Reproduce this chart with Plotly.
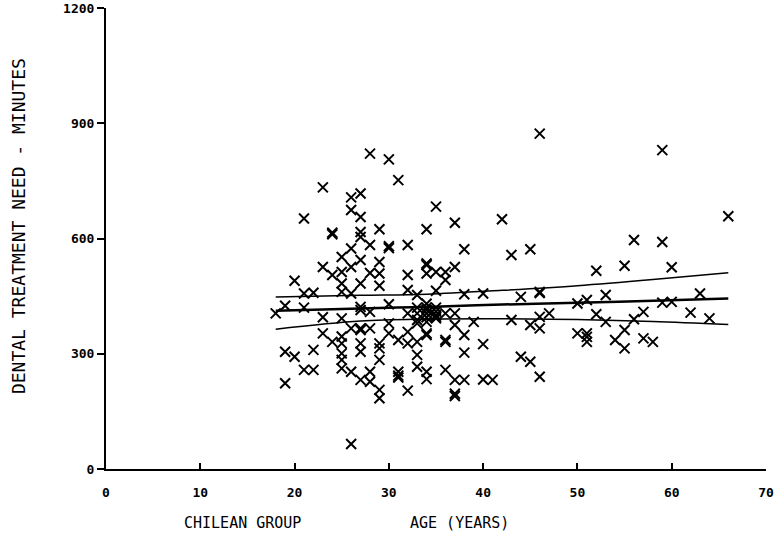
import plotly.graph_objects as go

ages_pts = (
    [18] + [19]*3 + [20]*2 + [21]*4 + [22]*3 + [23]*4 + [24]*4 + [25]*10 + [26]*8 +
    [27]*13 + [28]*7 + [29]*9 + [30]*6 + [31]*5 + [32]*7 + [33]*8 + [34]*14 + [35]*8 +
    [36]*6 + [37]*7 + [38]*5 + [39] + [40]*3 + [41] + [42] + [43]*2 + [44]*2 + [45]*3 +
    [46]*6 + [47] + [50]*2 + [51]*4 + [52]*2 + [53]*2 + [54] + [55]*3 + [56]*2 + [57]*2 +
    [58] + [59]*3 + [60]*2 + [62] + [63] + [64] + [66]
)
minutes_pts = [
    405,
    425, 305, 223,
    490, 292,
    652, 457, 420, 258,
    459, 310, 258,
    733, 526, 395, 353,
    611, 615, 505, 331,
    552, 513, 483, 461, 392, 345, 327, 301, 284, 262,
    707, 674, 574, 526, 457, 366, 253, 65,
    717, 656, 617, 604, 544, 483, 422, 414, 366, 362, 327, 305, 232,
    821, 583, 510, 409, 366, 253, 227,
    624, 539, 509, 477, 327, 314, 284, 206, 184,
    806, 580, 575, 429, 379, 353,
    752, 336, 253, 243, 238,
    583, 505, 466, 405, 357, 327, 204,
    453, 420, 405, 388, 379, 331, 297, 266,
    624, 535, 531, 509, 430, 420, 414, 405, 395, 383, 353, 349, 253, 234,
    683, 513, 464, 420, 410, 400, 396, 392,
    513, 492, 405, 336, 331, 258,
    641, 526, 405, 375, 232, 196, 190,
    572, 455, 349, 303, 232,
    383,
    457, 325, 233,
    232,
    650,
    557, 388,
    448, 292,
    572, 375, 279,
    873, 461, 458, 396, 366, 240,
    405,
    431, 353,
    440, 353, 344, 331,
    516, 403,
    453, 383,
    336,
    529, 362, 314,
    596, 390,
    409, 340,
    331,
    830, 591, 433,
    525, 435,
    407,
    457,
    392,
    658,
]

line_ages = [18, 27, 34, 42, 50, 58, 66]
fit_line = [412, 418, 422, 428, 433, 438, 444]
upper_band = [448, 452, 455, 465, 477, 493, 511]
lower_band = [364, 385, 390, 391, 389, 384, 376]

x_ticks = [0, 10, 20, 30, 40, 50, 60, 70]
y_ticks = [0, 300, 600, 900, 1200]

FONT = "DejaVu Sans Mono"

fig = go.Figure()
fig.add_trace(go.Scatter(
    x=ages_pts, y=minutes_pts, mode="markers",
    marker=dict(symbol="x-thin", size=10, color="black",
                line=dict(color="black", width=2)),
    showlegend=False, hoverinfo="x+y"))
for ys, w in [(upper_band, 1.5), (fit_line, 2.5), (lower_band, 1.5)]:
    fig.add_trace(go.Scatter(
        x=line_ages, y=ys, mode="lines",
        line=dict(color="black", width=w, shape="spline"),
        showlegend=False))

fig.update_layout(
    width=775, height=541,
    margin=dict(l=106, r=9, t=8, b=72),
    paper_bgcolor="white", plot_bgcolor="white",
    font=dict(family=FONT, color="black"),
    xaxis=dict(range=[0, 70], tickvals=x_ticks, ticks="inside", ticklen=6,
               tickwidth=1.5, tickcolor="black", showline=True, linewidth=2,
               linecolor="black", showgrid=False, zeroline=False, automargin=False,
               tickfont=dict(family=FONT, size=13, color="black", weight="bold"),
               ticklabelstandoff=10),
    yaxis=dict(range=[0, 1200], tickvals=y_ticks, ticks="outside", ticklen=7,
               tickwidth=1.5, tickcolor="black", showline=True, linewidth=2,
               linecolor="black", showgrid=False, zeroline=False, automargin=False,
               tickfont=dict(family=FONT, size=13, color="black", weight="bold")),
    annotations=[
        dict(text="DENTAL TREATMENT NEED - MINUTES", xref="paper", yref="paper",
             x=-0.1333, y=0.527, textangle=-90, showarrow=False,
             font=dict(family=FONT, size=18, color="black"),
             xanchor="center", yanchor="middle"),
        dict(text="CHILEAN GROUP", xref="paper", yref="paper",
             x=0.207, y=-0.117, showarrow=False,
             font=dict(family=FONT, size=15, color="black"),
             xanchor="center", yanchor="middle"),
        dict(text="AGE (YEARS)", xref="paper", yref="paper",
             x=0.536, y=-0.117, showarrow=False,
             font=dict(family=FONT, size=15, color="black"),
             xanchor="center", yanchor="middle"),
    ],
)

fig.write_html("out.html", config={"displayModeBar": False},
               post_script="document.body.style.margin='0';document.body.style.overflow='hidden';")
